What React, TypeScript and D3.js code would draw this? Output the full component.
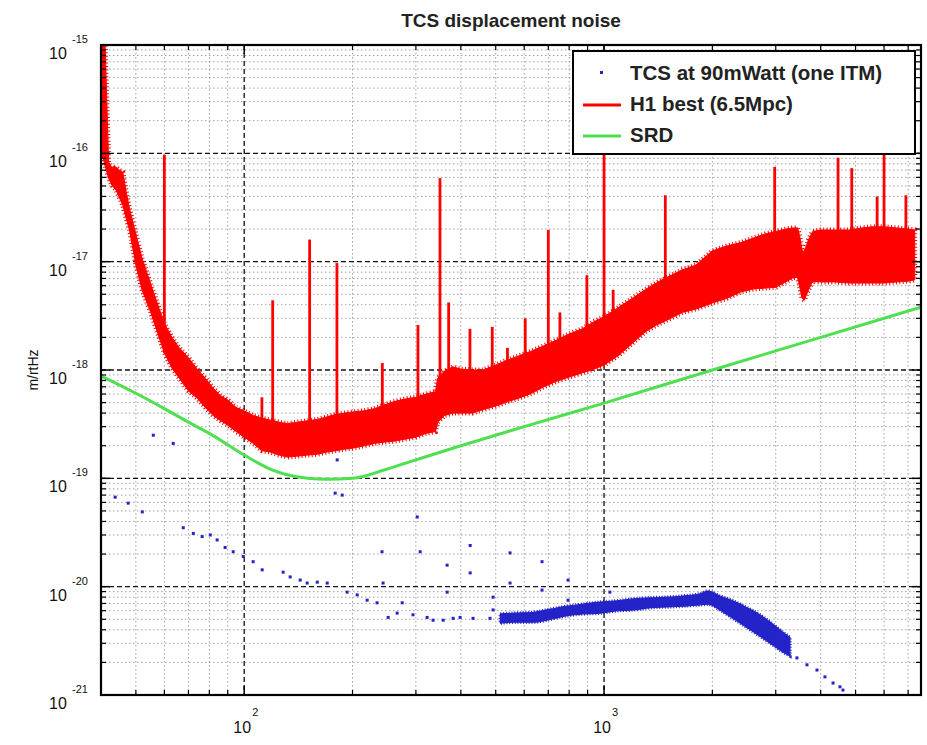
import React from 'react';
import * as d3 from 'd3';

// ---- data -------------------------------------------------------------
// H1 best sensitivity: envelope of the noisy spectrum (m/rtHz)
const h1Freq = [40, 41, 42, 43, 44, 45, 46, 47, 48, 50, 52, 55, 58, 60, 63, 66, 70, 74, 78, 82, 86, 90, 95, 100, 106, 112, 118, 125, 132, 140, 150, 160, 170, 180, 190, 200, 215, 230, 245, 260, 280, 300, 320, 340, 345, 360, 380, 400, 430, 460, 500, 540, 580, 630, 680, 740, 800, 870, 940, 1000, 1100, 1200, 1300, 1400, 1500, 1650, 1800, 2000, 2200, 2400, 2600, 2800, 3000, 3200, 3350, 3450, 3500, 3550, 3600, 3700, 3800, 4000, 4400, 4800, 5200, 5600, 6000, 6500, 7000, 7300];
const h1Upper = [1.5e-15, 1.2e-15, 8.3e-17, 7.3e-17, 7.5e-17, 7.0e-17, 6.7e-17, 4.4e-17, 3.1e-17, 1.8e-17, 1.08e-17, 6.2e-18, 3.7e-18, 2.7e-18, 2.0e-18, 1.6e-18, 1.3e-18, 1.02e-18, 8.4e-19, 6.8e-19, 5.8e-19, 5.3e-19, 4.5e-19, 4.2e-19, 3.8e-19, 3.6e-19, 3.45e-19, 3.3e-19, 3.2e-19, 3.3e-19, 3.4e-19, 3.5e-19, 3.7e-19, 3.9e-19, 4.0e-19, 4.1e-19, 4.2e-19, 4.4e-19, 4.75e-19, 5.1e-19, 5.4e-19, 5.6e-19, 6.0e-19, 6.3e-19, 8.4e-19, 9.8e-19, 1.07e-18, 1.02e-18, 1.0e-18, 1.0e-18, 1.11e-18, 1.24e-18, 1.35e-18, 1.5e-18, 1.67e-18, 1.9e-18, 2.15e-18, 2.4e-18, 2.8e-18, 3.1e-18, 3.8e-18, 4.6e-18, 5.5e-18, 6.4e-18, 7.2e-18, 8.4e-18, 9.3e-18, 1.26e-17, 1.4e-17, 1.5e-17, 1.65e-17, 1.8e-17, 1.9e-17, 2.0e-17, 2.05e-17, 2.05e-17, 1.7e-17, 1.28e-17, 1.23e-17, 1.6e-17, 1.9e-17, 1.96e-17, 1.96e-17, 1.96e-17, 2.05e-17, 2.1e-17, 2.1e-17, 2.05e-17, 2.0e-17, 1.96e-17];
const h1Lower = [1.07e-16, 7.8e-17, 5.9e-17, 5.0e-17, 4.6e-17, 3.9e-17, 3.3e-17, 2.5e-17, 1.96e-17, 9.3e-18, 5.5e-18, 3.4e-18, 2.0e-18, 1.44e-18, 1.04e-18, 8.4e-19, 6.4e-19, 5.5e-19, 4.5e-19, 3.8e-19, 3.4e-19, 3.1e-19, 2.7e-19, 2.4e-19, 2.1e-19, 1.8e-19, 1.75e-19, 1.64e-19, 1.57e-19, 1.6e-19, 1.64e-19, 1.67e-19, 1.75e-19, 1.8e-19, 1.86e-19, 1.9e-19, 1.99e-19, 2.1e-19, 2.16e-19, 2.2e-19, 2.3e-19, 2.4e-19, 2.6e-19, 2.7e-19, 3.3e-19, 3.8e-19, 4.0e-19, 4.0e-19, 4.0e-19, 4.3e-19, 4.65e-19, 5.1e-19, 5.5e-19, 6.1e-19, 7.0e-19, 7.9e-19, 8.6e-19, 9.4e-19, 1.02e-18, 1.11e-18, 1.37e-18, 1.77e-18, 2.24e-18, 2.6e-18, 2.9e-18, 3.4e-18, 3.65e-18, 4.15e-18, 4.6e-18, 5.25e-18, 5.6e-18, 5.7e-18, 5.8e-18, 6.5e-18, 7.1e-18, 7.2e-18, 5.8e-18, 4.6e-18, 4.4e-18, 5.5e-18, 6.6e-18, 6.5e-18, 6.5e-18, 6.35e-18, 6.35e-18, 6.35e-18, 6.35e-18, 6.5e-18, 6.6e-18, 6.8e-18];

// narrow lines in the H1 spectrum: frequency (Hz) and peak height
const lineFreq = [60, 112, 120, 152, 181, 242, 304, 350, 370, 424, 489, 539, 604, 700, 754, 896, 1000, 1060, 1480, 2980, 4470, 4880, 5740, 6000, 6900];
const linePeak = [9.7e-17, 5.6e-19, 4.4e-18, 1.6e-17, 9.7e-18, 1.16e-18, 2.6e-18, 5.9e-17, 4.2e-18, 2.4e-18, 2.5e-18, 1.6e-18, 3.0e-18, 1.96e-17, 3.4e-18, 7.5e-18, 1.2e-16, 5.5e-18, 4.1e-17, 7.5e-17, 9.1e-17, 7.3e-17, 4.0e-17, 1.5e-16, 4.1e-17];

// SRD design curve
const srdFreq = [40, 50, 60, 70, 80, 100, 120, 130, 150, 170, 200, 250, 300, 400, 600, 1000, 2000, 4000, 7600];
const srdValue = [8.8e-19, 6.1e-19, 4.4e-19, 3.3e-19, 2.6e-19, 1.64e-19, 1.19e-19, 1.09e-19, 1.0e-19, 0.98e-19, 1.0e-19, 1.22e-19, 1.48e-19, 2.0e-19, 3.0e-19, 4.95e-19, 1.0e-18, 2.0e-18, 3.8e-18];

// TCS at 90 mW: individual points
const tcsFreq = [43.8, 47.6, 52.1, 55.9, 63.5, 67.7, 72.2, 76.4, 80.5, 84.1, 88.5, 93.2, 99.4, 105.9, 112.2, 128.3, 134.2, 143.1, 149.6, 159.6, 170.1, 181.3, 179, 187.2, 193.2, 206.1, 219.6, 234, 243.2, 241.5, 251.2, 266.1, 274.8, 294.5, 302.6, 308.3, 322.3, 334.9, 357.3, 366.4, 366.4, 380.8, 398, 424.6, 424.6, 432.5, 482, 491.7, 491.7, 548, 548, 672.5, 672.5, 794.3, 794.3, 1038, 3436, 3664, 3906, 4111, 4329, 4525, 4613];
const tcsValue = [6.7e-20, 5.9e-20, 4.9e-20, 2.5e-19, 2.1e-19, 3.5e-20, 3.1e-20, 2.9e-20, 3.0e-20, 2.7e-20, 2.3e-20, 2.1e-20, 1.9e-20, 1.7e-20, 1.43e-20, 1.36e-20, 1.23e-20, 1.15e-20, 1.08e-20, 1.1e-20, 1.08e-20, 1.48e-19, 7.3e-20, 7.0e-20, 8.9e-21, 8.4e-21, 7.5e-21, 7.1e-21, 1.08e-20, 2.1e-20, 5.2e-21, 5.7e-21, 7.1e-21, 5.5e-21, 4.4e-20, 2.1e-20, 5.2e-21, 4.9e-21, 4.9e-21, 1.58e-20, 8.9e-21, 5.1e-21, 5.2e-21, 2.4e-20, 1.34e-20, 5.1e-21, 5.1e-21, 8.0e-21, 6.1e-21, 2.05e-20, 1.08e-20, 1.7e-20, 9.3e-21, 1.15e-20, 7.5e-21, 8.9e-21, 2.2e-21, 1.9e-21, 1.7e-21, 1.47e-21, 1.29e-21, 1.19e-21, 1.11e-21];

// TCS at 90 mW: dense part of the spectrum (envelope)
const tcsBandFreq = [515, 565, 635, 710, 790, 875, 975, 1090, 1205, 1345, 1500, 1655, 1850, 1945, 2100, 2280, 2495, 2710, 2945, 3140, 3285];
const tcsBandUpper = [5.6e-21, 5.7e-21, 5.8e-21, 6.2e-21, 6.6e-21, 6.9e-21, 7.2e-21, 7.4e-21, 7.7e-21, 7.9e-21, 8.0e-21, 8.2e-21, 8.6e-21, 9.1e-21, 8.2e-21, 7.4e-21, 6.4e-21, 5.5e-21, 4.5e-21, 3.8e-21, 3.4e-21];
const tcsBandLower = [4.6e-21, 4.7e-21, 4.7e-21, 5.0e-21, 5.4e-21, 5.6e-21, 5.7e-21, 6.0e-21, 6.1e-21, 6.4e-21, 6.5e-21, 6.6e-21, 6.8e-21, 6.9e-21, 6.1e-21, 5.1e-21, 4.2e-21, 3.5e-21, 2.9e-21, 2.5e-21, 2.3e-21];

// axes
const xDomain = [40, 7600];
const yDomain = [1e-21, 1e-15];
const xMajor = [100, 1000];
const xMajorExp = ['2', '3'];
const yExponents = [-21, -20, -19, -18, -17, -16, -15];

const legendLabels = ['TCS at 90mWatt (one ITM)', 'H1 best (6.5Mpc)', 'SRD'];
const titleText = 'TCS displacement noise';
const yLabel = 'm/rtHz';

// ---- layout -----------------------------------------------------------
const W = 927;
const H = 745;
const L = 101, R = 921, T = 45, B = 695;
const FONT = '"Liberation Sans", Arial, Helvetica, sans-serif';
const RED = '#ff0000';
const GREEN = '#4ee04e';
const BLUE = '#2323c8';

const x = d3.scaleLog().domain(xDomain).range([L, R]);
const y = d3.scaleLog().domain(yDomain).range([B, T]);

function interpLog(f: number, fs: number[], vs: number[]): number {
  const lf = Math.log10(f);
  let i = d3.bisectRight(fs, f) - 1;
  i = Math.max(0, Math.min(fs.length - 2, i));
  const t = (lf - Math.log10(fs[i])) / (Math.log10(fs[i + 1]) - Math.log10(fs[i]));
  return Math.pow(10, Math.log10(vs[i]) + t * (Math.log10(vs[i + 1]) - Math.log10(vs[i])));
}

function minorTicks(lo: number, hi: number): number[] {
  const out: number[] = [];
  for (let e = Math.floor(Math.log10(lo)); e <= Math.ceil(Math.log10(hi)); e++) {
    for (let m = 2; m <= 9; m++) {
      const v = m * Math.pow(10, e);
      if (v > lo * 1.0001 && v < hi * 0.9999) out.push(v);
    }
  }
  return out;
}

export default function App() {
  const xMinor = minorTicks(xDomain[0], xDomain[1]);
  const yMinor = minorTicks(yDomain[0], yDomain[1]);

  const h1Area = d3
    .area<number>()
    .x((_, i) => x(h1Freq[i]))
    .y0((_, i) => y(h1Lower[i]))
    .y1((_, i) => y(h1Upper[i]));

  const tcsArea = d3
    .area<number>()
    .x((_, i) => x(tcsBandFreq[i]))
    .y0((_, i) => y(tcsBandLower[i]))
    .y1((_, i) => y(tcsBandUpper[i]))
    .curve(d3.curveMonotoneX);

  const srdLine = d3
    .line<number>()
    .x((_, i) => x(srdFreq[i]))
    .y((d) => y(d))
    .curve(d3.curveMonotoneX);

  const h1Path = h1Area(h1Freq.map((_, i) => i)) || '';
  const tcsPath = tcsArea(tcsBandFreq.map((_, i) => i)) || '';

  return (
    <svg width={W} height={H} style={{ position: 'absolute', left: 0, top: 0, background: '#fff' }} fontFamily={FONT}>
      <defs>
        <clipPath id="plotClip">
          <rect x={L} y={T} width={R - L} height={B - T} />
        </clipPath>
      </defs>
      <rect x={0} y={0} width={W} height={H} fill="#fff" />

      {/* grid */}
      <g>
        {xMinor.map((v) => (
          <line key={'xm' + v} x1={x(v)} x2={x(v)} y1={T} y2={B} stroke="#8a8a8a" strokeWidth={0.8} strokeDasharray="1.5,2.5" />
        ))}
        {yMinor.map((v) => (
          <line key={'ym' + v} x1={L} x2={R} y1={y(v)} y2={y(v)} stroke="#8a8a8a" strokeWidth={0.8} strokeDasharray="1.5,2.5" />
        ))}
        {xMajor.map((v) => (
          <line key={'xM' + v} x1={x(v)} x2={x(v)} y1={T} y2={B} stroke="#111" strokeWidth={1.3} strokeDasharray="5,3" />
        ))}
        {yExponents.slice(1, -1).map((e) => (
          <line key={'yM' + e} x1={L} x2={R} y1={y(Math.pow(10, e))} y2={y(Math.pow(10, e))} stroke="#111" strokeWidth={1.3} strokeDasharray="5,3" />
        ))}
      </g>

      {/* data */}
      <g clipPath="url(#plotClip)">
        {/* TCS dense band and points */}
        <path d={tcsPath} fill={BLUE} stroke={BLUE} strokeWidth={1.2} />
        <path d={tcsPath} fill="none" stroke={BLUE} strokeWidth={3.5} strokeDasharray="1,1.8" />
        {tcsFreq.map((f, i) => (
          <rect key={'tcs' + i} x={x(f) - 1.5} y={y(tcsValue[i]) - 1.5} width={3} height={3} fill={BLUE} />
        ))}

        {/* H1 spectrum: filled envelope with a ragged edge for the noise */}
        <path d={h1Path} fill={RED} stroke={RED} strokeWidth={1} strokeLinejoin="round" />
        <path d={h1Path} fill="none" stroke={RED} strokeWidth={5} strokeDasharray="1,2.4" />
        {lineFreq.map((f, i) => {
          const base = interpLog(f, h1Freq, h1Lower);
          return (
            <line key={'ln' + i} x1={x(f)} x2={x(f)} y1={y(base)} y2={y(linePeak[i])} stroke={RED} strokeWidth={2.8} />
          );
        })}

        {/* SRD */}
        <path d={srdLine(srdValue) || ''} fill="none" stroke={GREEN} strokeWidth={3} />
      </g>

      {/* ticks, all four sides */}
      <g stroke="#000">
        {xMinor.map((v) => (
          <g key={'xt' + v}>
            <line x1={x(v)} x2={x(v)} y1={B} y2={B - 5} strokeWidth={1.2} />
            <line x1={x(v)} x2={x(v)} y1={T} y2={T + 5} strokeWidth={1.2} />
          </g>
        ))}
        {xMajor.map((v) => (
          <g key={'xT' + v}>
            <line x1={x(v)} x2={x(v)} y1={B} y2={B - 9} strokeWidth={1.5} />
            <line x1={x(v)} x2={x(v)} y1={T} y2={T + 9} strokeWidth={1.5} />
          </g>
        ))}
        {yMinor.map((v) => (
          <g key={'yt' + v}>
            <line x1={L} x2={L + 5} y1={y(v)} y2={y(v)} strokeWidth={1.2} />
            <line x1={R} x2={R - 5} y1={y(v)} y2={y(v)} strokeWidth={1.2} />
          </g>
        ))}
        {yExponents.map((e) => (
          <g key={'yT' + e}>
            <line x1={L} x2={L + 9} y1={y(Math.pow(10, e))} y2={y(Math.pow(10, e))} strokeWidth={1.5} />
            <line x1={R} x2={R - 9} y1={y(Math.pow(10, e))} y2={y(Math.pow(10, e))} strokeWidth={1.5} />
          </g>
        ))}
      </g>

      {/* frame */}
      <rect x={L} y={T} width={R - L} height={B - T} fill="none" stroke="#000" strokeWidth={2.2} />

      {/* y tick labels */}
      {yExponents.map((e) => {
        const py = y(Math.pow(10, e));
        return (
          <g key={'yl' + e} fill="#111">
            <text x={49} y={py + 14} fontSize={16}>10</text>
            <text x={72} y={py - 2} fontSize={11}>{String(e)}</text>
          </g>
        );
      })}

      {/* x tick labels */}
      {xMajor.map((v, i) => (
        <g key={'xl' + v} fill="#111">
          <text x={x(v) - 2} y={733} fontSize={16} textAnchor="middle">10</text>
          <text x={x(v) + 8} y={716} fontSize={11}>{xMajorExp[i]}</text>
        </g>
      ))}

      {/* title and axis label */}
      <text x={(L + R) / 2} y={27} fontSize={19} fontWeight="bold" textAnchor="middle" fill="#222">{titleText}</text>
      <text transform={`translate(38,${(T + B) / 2}) rotate(-90)`} fontSize={14} textAnchor="middle" fill="#111">{yLabel}</text>

      {/* legend */}
      <g>
        <rect x={573} y={51} width={342} height={103} fill="#fff" stroke="#000" strokeWidth={2} />
        <rect x={600} y={71} width={3} height={3} fill={BLUE} />
        <line x1={583} x2={621} y1={105} y2={105} stroke={RED} strokeWidth={3} />
        <line x1={583} x2={621} y1={136} y2={136} stroke={GREEN} strokeWidth={3} />
        {legendLabels.map((s, i) => (
          <text key={s} x={630} y={80 + i * 31} fontSize={20.5} fontWeight="bold" fill="#222">{s}</text>
        ))}
      </g>
    </svg>
  );
}
